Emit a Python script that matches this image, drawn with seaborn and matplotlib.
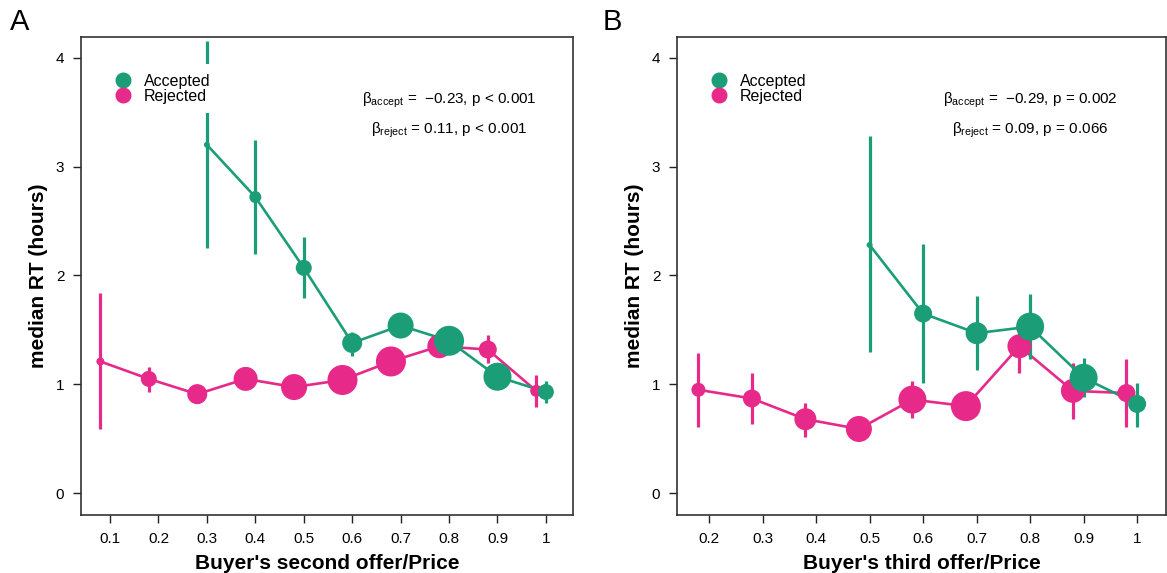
import numpy as np
import pandas as pd
import matplotlib
matplotlib.use("Agg")
import matplotlib.pyplot as plt
from matplotlib.lines import Line2D
import seaborn as sns

# ---------------- data ----------------
# Panel A: buyer's second offer / price
a_acc_x = [0.3, 0.4, 0.5, 0.6, 0.7, 0.8, 0.9, 1.0]
a_acc_rt = [3.20, 2.72, 2.07, 1.38, 1.54, 1.40, 1.07, 0.93]
a_acc_lo = [2.25, 2.20, 1.79, 1.26, 1.50, 1.36, 1.03, 0.83]
a_acc_hi = [4.15, 3.24, 2.35, 1.48, 1.58, 1.44, 1.11, 1.03]
a_acc_n = [9, 36, 64, 100, 169, 225, 196, 64]

a_rej_x = [0.08, 0.18, 0.28, 0.38, 0.48, 0.58, 0.68, 0.78, 0.88, 0.98]
a_rej_rt = [1.21, 1.05, 0.91, 1.05, 0.975, 1.04, 1.21, 1.35, 1.32, 0.94]
a_rej_lo = [0.59, 0.93, 0.88, 1.02, 0.95, 1.01, 1.18, 1.32, 1.20, 0.79]
a_rej_hi = [1.84, 1.16, 0.96, 1.08, 1.00, 1.07, 1.24, 1.38, 1.45, 1.09]
a_rej_n = [16, 64, 100, 144, 169, 225, 225, 144, 81, 36]

# Panel B: buyer's third offer / price
b_acc_x = [0.5, 0.6, 0.7, 0.8, 0.9, 1.0]
b_acc_rt = [2.28, 1.65, 1.47, 1.53, 1.06, 0.82]
b_acc_lo = [1.30, 1.01, 1.13, 1.23, 0.88, 0.61]
b_acc_hi = [3.28, 2.29, 1.81, 1.83, 1.24, 1.01]
b_acc_n = [9, 81, 121, 196, 196, 81]

b_rej_x = [0.18, 0.28, 0.38, 0.48, 0.58, 0.68, 0.78, 0.88, 0.98]
b_rej_rt = [0.95, 0.87, 0.68, 0.59, 0.86, 0.80, 1.35, 0.94, 0.92]
b_rej_lo = [0.61, 0.64, 0.52, 0.56, 0.69, 0.70, 1.10, 0.68, 0.61]
b_rej_hi = [1.29, 1.10, 0.83, 0.62, 1.03, 0.90, 1.60, 1.20, 1.23]
b_rej_n = [49, 81, 121, 169, 196, 225, 144, 144, 81]

x_ticks_a = [0.1, 0.2, 0.3, 0.4, 0.5, 0.6, 0.7, 0.8, 0.9, 1.0]
x_ticklabels_a = ["0.1", "0.2", "0.3", "0.4", "0.5", "0.6", "0.7", "0.8", "0.9", "1"]
x_ticks_b = [0.2, 0.3, 0.4, 0.5, 0.6, 0.7, 0.8, 0.9, 1.0]
x_ticklabels_b = ["0.2", "0.3", "0.4", "0.5", "0.6", "0.7", "0.8", "0.9", "1"]
y_ticks = [0, 1, 2, 3, 4]

stats_a = [r"β$_{\mathrm{accept}}$ =  $-$0.23, p < 0.001", r"β$_{\mathrm{reject}}$ = 0.11, p < 0.001"]
stats_b = [r"β$_{\mathrm{accept}}$ =  $-$0.29, p = 0.002", r"β$_{\mathrm{reject}}$ = 0.09, p = 0.066"]

# ---------------- style ----------------
sns.set_theme(style="ticks")
plt.rcParams["font.family"] = ["Liberation Sans", "DejaVu Sans"]
plt.rcParams["mathtext.fontset"] = "custom"
plt.rcParams["mathtext.rm"] = "Liberation Sans"
plt.rcParams["mathtext.it"] = "Liberation Sans"
plt.rcParams["mathtext.bf"] = "Liberation Sans:bold"
for k in ["text.color", "axes.labelcolor", "xtick.color", "ytick.color"]:
    plt.rcParams[k] = "black"

GREEN = "#1B9E77"
PINK = "#E7298A"
palette = {"Accepted": GREEN, "Rejected": PINK}


def make_df(x, rt, lo, hi, n, label):
    return pd.DataFrame({"x": x, "rt": rt, "lo": lo, "hi": hi, "n": n, "decision": label})


fig = plt.figure(figsize=(11.67, 5.73), dpi=100)
axA = fig.add_axes([81 / 1167, 58 / 573, (573 - 81) / 1167, (515 - 37) / 573])
axB = fig.add_axes([677 / 1167, 58 / 573, (1166 - 677) / 1167, (515 - 37) / 573])

panels = [
    (axA, make_df(a_rej_x, a_rej_rt, a_rej_lo, a_rej_hi, a_rej_n, "Rejected"),
     make_df(a_acc_x, a_acc_rt, a_acc_lo, a_acc_hi, a_acc_n, "Accepted"),
     (0.04, 1.056), x_ticks_a, x_ticklabels_a, "Buyer's second offer/Price", stats_a, 0.80),
    (axB, make_df(b_rej_x, b_rej_rt, b_rej_lo, b_rej_hi, b_rej_n, "Rejected"),
     make_df(b_acc_x, b_acc_rt, b_acc_lo, b_acc_hi, b_acc_n, "Accepted"),
     (0.14, 1.054), x_ticks_b, x_ticklabels_b, "Buyer's third offer/Price", stats_b, 0.80),
]

for ax, df_rej, df_acc, xlim, xt, xtl, xlabel, stats, sx in panels:
    for df in (df_rej, df_acc):
        col = palette[df["decision"].iloc[0]]
        ax.vlines(df["x"], df["lo"], df["hi"], color=col, lw=2.3, zorder=2)
        sns.lineplot(data=df, x="x", y="rt", color=col, lw=1.9, ax=ax,
                     estimator=None, sort=True, legend=False, zorder=2)
        sns.scatterplot(data=df, x="x", y="rt", size="n", sizes=(0, 467), size_norm=(0, 225),
                        color=col, linewidth=0, ax=ax, legend=False, zorder=3)
    ax.set_xlim(*xlim)
    ax.set_ylim(-0.2, 4.19)
    ax.set_xticks(xt)
    ax.set_xticklabels(xtl)
    ax.set_yticks(y_ticks)
    ax.set_yticklabels([str(v) for v in y_ticks])
    ax.tick_params(axis="both", direction="out", length=6, width=1, labelsize=11, pad=6, color="#222222")
    ax.set_xlabel(xlabel, fontsize=15, fontweight="bold", labelpad=6)
    ax.set_ylabel("median RT (hours)", fontsize=15, fontweight="bold", labelpad=6)
    for s in ax.spines.values():
        s.set_visible(True)
        s.set_linewidth(1.2)
        s.set_color("#333333")
    ax.text(sx, 3.61, stats[0], ha="center", va="center", fontsize=11)
    ax.text(sx, 3.33, stats[1], ha="center", va="center", fontsize=11)
    handles = [Line2D([], [], marker="o", ls="none", color=GREEN, markersize=10.5),
               Line2D([], [], marker="o", ls="none", color=PINK, markersize=10.5)]
    leg = ax.legend(handles, ["Accepted", "Rejected"], loc="upper left",
                    bbox_to_anchor=(0.03, 0.96), frameon=True, fontsize=11.5,
                    labelspacing=0.0, handletextpad=0.7, borderpad=0.6, handlelength=1.2)
    leg.get_frame().set_facecolor("white")
    leg.get_frame().set_edgecolor("none")
    leg.get_frame().set_alpha(1)

fig.text(10 / 1167, 1 - 22 / 573, "A", fontsize=21, ha="left", va="center")
fig.text(603 / 1167, 1 - 22 / 573, "B", fontsize=21, ha="left", va="center")

fig.savefig("out.png", dpi=100)
